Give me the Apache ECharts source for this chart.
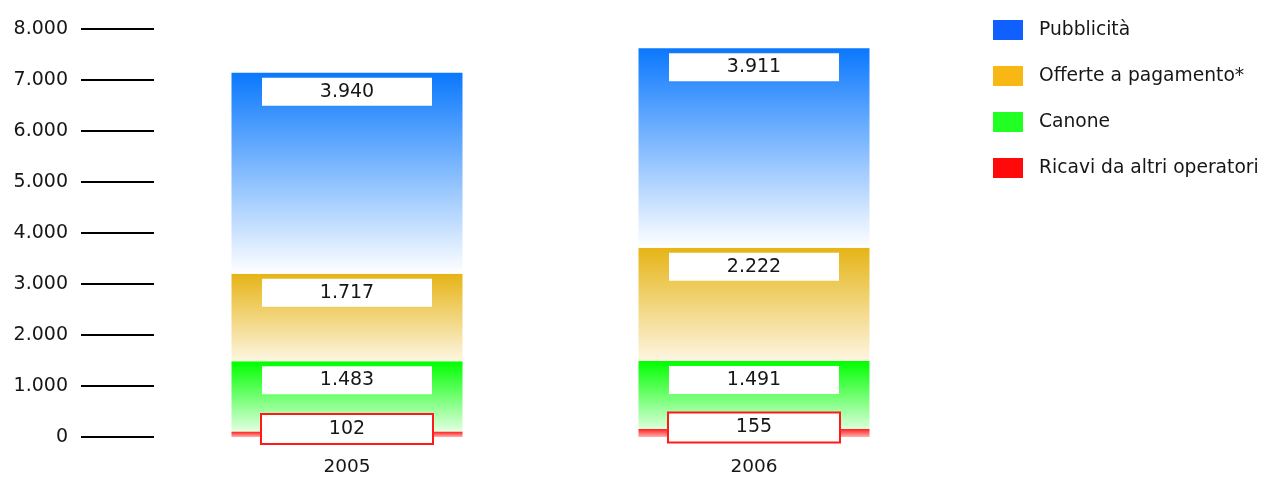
<!DOCTYPE html>
<html>
<head>
<meta charset="utf-8">
<script src="https://cdn.jsdelivr.net/npm/echarts@6/dist/echarts.min.js"></script>
<style>html,body{margin:0;padding:0;background:#fff}#c{width:1267px;height:477px}</style>
</head>
<body>
<div id="c"></div>
<script>
const categories = ['2005', '2006'];
const pubblicita = [3940, 3911];
const offerte = [1717, 2222];
const canone = [1483, 1491];
const altriOperatori = [102, 155];
const yTicks = [0, 1000, 2000, 3000, 4000, 5000, 6000, 7000, 8000];

const FONT = 'DejaVu Sans';
const TXT = '#161616';
const fmt = v => String(v).replace(/\B(?=(\d{3})+(?!\d))/g, '.');
const grad = (c0, c1) => new echarts.graphic.LinearGradient(0, 0, 0, 1, [
  { offset: 0, color: c0 }, { offset: 1, color: c1 }
]);
const boxLabel = (pos, extra) => Object.assign({
  show: true,
  position: pos,
  distance: 5,
  formatter: p => fmt(p.value),
  backgroundColor: '#ffffff',
  width: 170,
  height: 28,
  lineHeight: 28,
  padding: 0,
  color: TXT,
  fontFamily: FONT,
  fontSize: 19
}, extra || {});

const chart = echarts.init(document.getElementById('c'), null, { renderer: 'canvas' });
chart.setOption({
  animation: false,
  textStyle: { fontFamily: FONT },
  grid: { left: 143.5, right: 309.5, top: 29, bottom: 37, containLabel: false },
  legend: {
    orient: 'vertical',
    left: 993,
    top: 20,
    padding: 0,
    itemWidth: 30,
    itemHeight: 20,
    itemGap: 26,
    icon: 'rect',
    textStyle: { fontFamily: FONT, fontSize: 18.7, color: TXT, padding: [0, 0, 0, 11] },
    data: [
      { name: 'Pubblicità', itemStyle: { color: '#1060ff' } },
      { name: 'Offerte a pagamento*', itemStyle: { color: '#f8b713' } },
      { name: 'Canone', itemStyle: { color: '#22ff22' } },
      { name: 'Ricavi da altri operatori', itemStyle: { color: '#ff0a0a' } }
    ]
  },
  xAxis: {
    type: 'category',
    data: categories,
    axisLine: { show: false },
    axisTick: { show: false },
    axisLabel: { margin: 21, fontFamily: FONT, fontSize: 18.5, color: TXT }
  },
  yAxis: {
    type: 'value',
    min: 0,
    max: 8000,
    interval: 1000,
    offset: -10.5,
    splitLine: { show: false },
    axisLine: { show: false },
    axisTick: { show: true, length: 73, lineStyle: { color: '#000', width: 2 } },
    axisLabel: {
      margin: 86,
      fontFamily: FONT,
      fontSize: 19,
      color: TXT,
      formatter: v => yTicks.indexOf(v) >= 0 ? fmt(v) : ''
    }
  },
  series: [
    {
      name: 'Canone', type: 'bar', stack: 'tot', barWidth: 231, data: canone,
      itemStyle: { color: grad('#00ff00', '#f4fff4') },
      label: boxLabel('insideTop')
    },
    {
      name: 'Offerte a pagamento*', type: 'bar', stack: 'tot', barWidth: 231, data: offerte,
      itemStyle: { color: grad('#e6b416', '#fdf6e2') },
      label: boxLabel('insideTop')
    },
    {
      name: 'Pubblicità', type: 'bar', stack: 'tot', barWidth: 231, data: pubblicita,
      itemStyle: { color: grad('#0a78fd', '#ffffff') },
      label: boxLabel('insideTop')
    },
    {
      name: 'Ricavi da altri operatori', type: 'bar', barWidth: 231, barGap: '-100%', data: altriOperatori,
      z: 5,
      itemStyle: { color: grad('#ff2020', '#ffb0b0') },
      label: boxLabel('inside', { offset: [0, -5.5], borderColor: '#ff1a1a', borderWidth: 2 })
    }
  ]
});
</script>
</body>
</html>
